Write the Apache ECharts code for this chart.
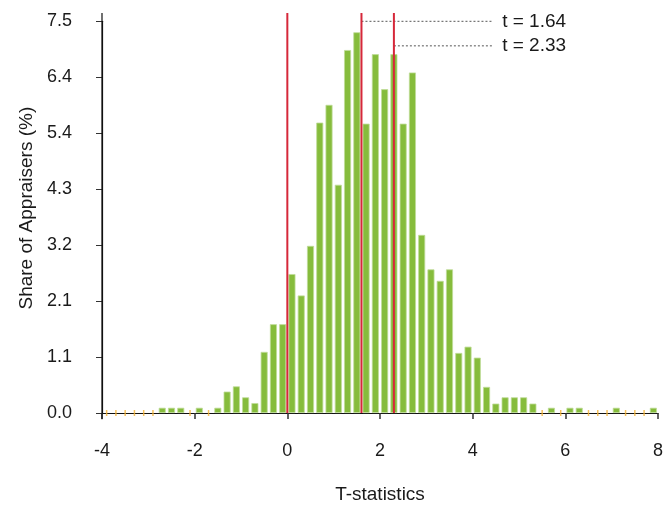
<!DOCTYPE html>
<html>
<head>
<meta charset="utf-8">
<script src="https://cdn.jsdelivr.net/npm/echarts@6/dist/echarts.min.js"></script>
<style>
html,body{margin:0;padding:0;background:#fff;}
#chart{width:671px;height:509px;}
</style>
</head>
<body>
<div id="chart"></div>
<script>
// Histogram bin centres (bin width 0.2, from -4 to 8)
const binCenters = [
  -3.9,-3.7,-3.5,-3.3,-3.1,-2.9,-2.7,-2.5,-2.3,-2.1,
  -1.9,-1.7,-1.5,-1.3,-1.1,-0.9,-0.7,-0.5,-0.3,-0.1,
  0.1,0.3,0.5,0.7,0.9,1.1,1.3,1.5,1.7,1.9,
  2.1,2.3,2.5,2.7,2.9,3.1,3.3,3.5,3.7,3.9,
  4.1,4.3,4.5,4.7,4.9,5.1,5.3,5.5,5.7,5.9,
  6.1,6.3,6.5,6.7,6.9,7.1,7.3,7.5,7.7,7.9
];
// Share of appraisers (%) per bin
const shares = [
  0,0,0,0,0,0,0.1,0.1,0.1,0,
  0.1,0,0.1,0.41,0.51,0.30,0.19,1.17,1.70,1.70,
  2.66,2.25,3.20,5.56,5.90,4.37,6.95,7.29,5.54,6.87,
  6.20,6.87,5.54,6.52,3.41,2.75,2.53,2.75,1.15,1.27,
  1.06,0.50,0.18,0.30,0.30,0.30,0.18,0,0.1,0,
  0.1,0.1,0,0,0,0.1,0,0,0,0.1
];
// Vertical reference lines (t = 0, 1.64, 2.33 as drawn)
const refLinesX = [0, 1.6, 2.3];
const refLineTop = 7.66;
// Annotations
const annotLabels = ['t = 1.64', 't = 2.33'];
const annotStartX = [1.6, 2.3];
const annotY = [7.5, 7.03];
const annotEndX = 4.42;
// Axis settings
const xTicks = [-4, -2, 0, 2, 4, 6, 8];
const yMax = 7.5;
const yTickCount = 7;
const yAxisLineExtent = [-0.12, 7.66];

const FONT = "'Liberation Sans', Arial, Helvetica, sans-serif";
const TXT = '#1a1a1a';

const barData = binCenters.map((x, i) => [x, shares[i]]).filter(d => d[1] > 0);
const zeroData = binCenters.map((x, i) => [x, shares[i]]).filter(d => d[1] === 0);

const series = [
  {
    type: 'bar',
    data: barData,
    barWidth: 7,
    itemStyle: { color: '#86bc3c', borderColor: '#bfdc98', borderWidth: 0.8 },
    silent: true,
    z: 2
  },
  {
    type: 'scatter',
    data: zeroData,
    symbol: 'rect',
    symbolSize: [1.5, 6],
    itemStyle: { color: '#f5b335' },
    silent: true,
    z: 3
  },
  {
    // full-height y axis line (extends a little beyond the value range, as in the original)
    type: 'line',
    data: [[xTicks[0], yAxisLineExtent[0]], [xTicks[0], yAxisLineExtent[1]]],
    symbol: 'none',
    clip: false,
    lineStyle: { color: '#111', width: 1.2 },
    silent: true,
    z: 6
  }
];

refLinesX.forEach(x => {
  series.push({
    type: 'line',
    data: [[x, 0], [x, refLineTop]],
    symbol: 'none',
    clip: false,
    lineStyle: { color: '#d6283a', width: 2 },
    silent: true,
    z: 5
  });
});

annotLabels.forEach((lab, i) => {
  series.push({
    type: 'line',
    data: [[annotStartX[i], annotY[i]], [annotEndX, annotY[i]]],
    symbol: 'none',
    clip: false,
    lineStyle: { color: '#555', width: 1, type: [2, 2] },
    endLabel: {
      show: true, distance: 10,
      formatter: lab, color: TXT, fontSize: 19, fontFamily: FONT
    },
    silent: true,
    z: 4
  });
});

const chart = echarts.init(document.getElementById('chart'), null, { renderer: 'canvas' });
chart.setOption({
  backgroundColor: '#fff',
  animation: false,
  grid: { left: 102, right: 13, top: 21.3, bottom: 92.3, containLabel: false },
  xAxis: {
    type: 'value',
    min: xTicks[0], max: xTicks[xTicks.length - 1], interval: 2,
    name: 'T-statistics',
    nameLocation: 'middle',
    nameGap: 72,
    nameTextStyle: { color: TXT, fontSize: 19, fontFamily: FONT },
    axisLine: { onZero: false, lineStyle: { color: '#111', width: 1.2 } },
    axisTick: { show: true, length: 6, lineStyle: { color: '#333', width: 1.5 } },
    axisLabel: { color: TXT, fontSize: 18, fontFamily: FONT, margin: 29 },
    splitLine: { show: false }
  },
  yAxis: {
    type: 'value',
    min: 0, max: yMax, interval: yMax / yTickCount,
    name: 'Share of Appraisers (%)',
    nameLocation: 'middle',
    nameGap: 64,
    nameTextStyle: { color: TXT, fontSize: 19, fontFamily: FONT, padding: [0, 0, 0, 18] },
    axisLine: { show: true, onZero: false, lineStyle: { color: '#111', width: 1.2 } },
    axisTick: { show: true, length: 6, lineStyle: { color: '#333', width: 1 } },
    axisLabel: {
      color: TXT, fontSize: 18, fontFamily: FONT, margin: 30,
      formatter: v => v.toFixed(1)
    },
    splitLine: { show: false }
  },
  series: series
});
</script>
</body>
</html>
